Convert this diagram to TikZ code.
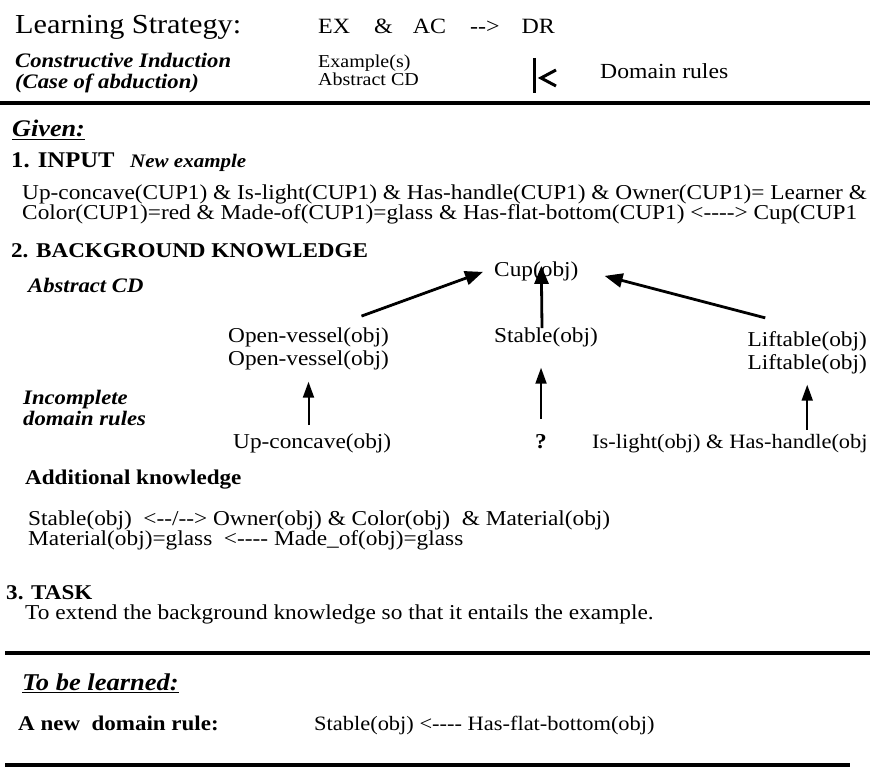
\documentclass[tikz,border=0pt]{standalone}
\usepackage{fontspec}
\setmainfont[FakeStretch=1.1]{Liberation Serif}
\usetikzlibrary{arrows.meta}
\newcommand{\fsz}[1]{\fontsize{#1}{#1}\selectfont}

\begin{document}
\begin{tikzpicture}[x=1pt,y=-1pt,
    txt/.style={anchor=base west,inner sep=0pt,font=\fsz{21.2}},
    bi/.style={txt,font=\fsz{20.6}\bfseries\itshape},
    bf/.style={txt,font=\fsz{21}\bfseries},
    rulebar/.style={line width=3.5pt},
    upar/.style={line width=2.8pt,-{Triangle[length=18pt,width=14pt]}},
    vup/.style={line width=2pt,-{Triangle[length=16pt,width=11pt]}}]
\useasboundingbox (0,0) rectangle (870,775);

\node[txt,font=\fsz{27.5}] (strat) at (15,34) {Learning Strategy:};
\node[txt,font=\fsz{21.8}] (formula) at (318,34) {EX\hspace{24pt}\&\hspace{20pt}AC\hspace{24pt}-{}->\hspace{22pt}DR};
\node[bi] (ci1) at (15,68) {Constructive Induction};
\node[bi] (ci2) at (15,89) {(Case of abduction)};
\node[txt,font=\fsz{18.2}] (ex1) at (318,68) {Example(s)};
\node[txt,font=\fsz{18.2}] (ex2) at (318,86) {Abstract CD};
\node[txt,font=\fsz{21.5}] (dom) at (600,79) {Domain rules};
\draw[line width=3pt] (534,58) -- (534,93);
\draw[line width=3pt] (556,70) -- (541,78) -- (556,86);
\draw[rulebar] (0,103) -- (870,103);

\node[bi,font=\fsz{23.8}\bfseries\itshape] (given) at (12,137) {\underline{Given:}};
\node[bf,font=\fsz{22.4}\bfseries] (inp) at (11,168) {1. INPUT};
\node[bi,font=\fsz{19.1}\bfseries\itshape] (newex) at (130,168) {New example};
\node[txt] (ex1l) at (22,200) {Up-concave(CUP1) \& Is-light(CUP1) \& Has-handle(CUP1) \& Owner(CUP1)= Learner \&};
\node[txt] (ex2l) at (22,220) {Color(CUP1)=red \& Made-of(CUP1)=glass \& Has-flat-bottom(CUP1) <-{}-{}-{}-> Cup(CUP1};
\node[bf] (bk) at (11,258) {2. BACKGROUND KNOWLEDGE};

\node[bi] (acd) at (28,293) {Abstract CD};
\node[bi] (inc1) at (23,404) {Incomplete};
\node[bi] (inc2) at (23,425) {domain rules};

\node[txt] (cup) at (494,277) {Cup(obj)};
\node[txt] (ov1) at (228,343) {Open-vessel(obj)};
\node[txt] (ov2) at (228,366) {Open-vessel(obj)};
\node[txt] (stab) at (494,343) {Stable(obj)};
\node[txt,anchor=base east] (lift1) at (867,347) {Liftable(obj)};
\node[txt,anchor=base east] (lift2) at (867,370) {Liftable(obj)};
\node[txt] (upc) at (233,448) {Up-concave(obj)};
\node[txt] (qm) at (535,448) {\textbf{?}};
\node[txt,font=\fsz{20.4}] (islh) at (592,448) {Is-light(obj) \& Has-handle(obj};

\draw[upar] ([xshift=53pt,yshift=12pt]ov1.north) -- ([xshift=-11pt]cup.west);
\draw[upar] ([xshift=-4pt]stab.north) -- ([xshift=5pt,yshift=6pt]cup.center);
\draw[upar] ([xshift=-42pt,yshift=14pt]lift1.north) -- ([xshift=26pt,yshift=-4pt]cup.east);
\draw[vup] ([yshift=8pt]ov2.south |- upc.north) -- ([yshift=-11pt]ov2.south);
\draw[vup] ([yshift=15pt]qm.north) -- ([yshift=-20pt]qm.north |- stab.south);
\draw[vup] ([yshift=4pt]islh.north -| lift2.south) -- ([yshift=-10pt]lift2.south);

\node[bf] (add) at (25,484) {Additional knowledge};
\node[txt] (ak1) at (28,525) {Stable(obj)\ \ <-{}-/-{}-> Owner(obj) \& Color(obj)\ \ \& Material(obj)};
\node[txt] (ak2) at (28,545) {Material(obj)=glass\ \ <-{}-{}-{}- Made\_of(obj)=glass};

\node[bf] (task) at (6,599) {3. TASK};
\node[txt] (taskl) at (25,619) {To extend the background knowledge so that it entails the example.};
\draw[rulebar] (5,653) -- (870,653);

\node[bi,font=\fsz{24.1}\bfseries\itshape] (learn) at (22,690) {\underline{To be learned:}};
\node[bf,font=\fsz{20.9}\bfseries] (newr) at (18,730) {A new\ \ domain rule:};
\node[txt,font=\fsz{20.4}] (rule) at (314,730) {Stable(obj) <-{}-{}-{}- Has-flat-bottom(obj)};
\draw[rulebar] (5,765) -- (850,765);
\end{tikzpicture}
\end{document}
